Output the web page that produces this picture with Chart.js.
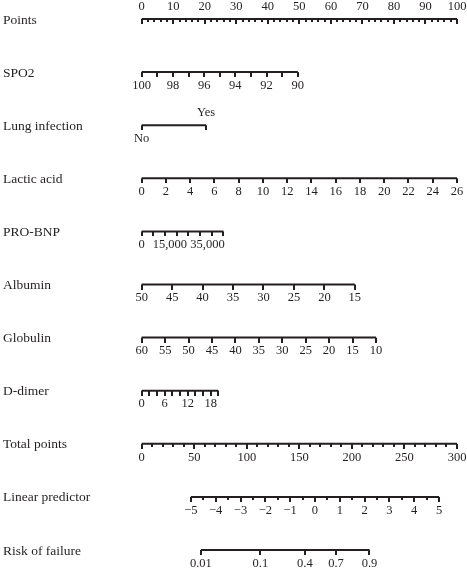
<!DOCTYPE html>
<html>
<head>
<meta charset="utf-8">
<script src="https://cdn.jsdelivr.net/npm/chart.js@4/dist/chart.umd.min.js"></script>
<style>
  html, body { margin: 0; padding: 0; background: #fff; }
  #wrap { width: 467px; height: 569px; }
</style>
</head>
<body>
<div id="wrap"><canvas id="nomo" width="467" height="569"></canvas></div>
<script>
// ---------- DATA ----------
const rowNames = ['Points', 'SPO2', 'Lung infection', 'Lactic acid', 'PRO-BNP', 'Albumin',
                  'Globulin', 'D-dimer', 'Total points', 'Linear predictor', 'Risk of failure'];

// Points axis
const pointsLabels = [0, 10, 20, 30, 40, 50, 60, 70, 80, 90, 100];

// each predictor: value at left / right end of its axis -> points at those ends
const spo2Ends = [100, 90];        const spo2Pts = [0, 49.5];
const spo2Ticks = [100, 99, 98, 97, 96, 95, 94, 93, 92, 91, 90];
const spo2Labels = [100, 98, 96, 94, 92, 90];

const lungValues = [0, 1];         const lungPts = [0, 20.4];
const lungText = ['No', 'Yes'];

const lacticEnds = [0, 26];        const lacticPts = [0, 100];
const lacticLabels = [0, 2, 4, 6, 8, 10, 12, 14, 16, 18, 20, 22, 24, 26];

const bnpEnds = [0, 43400];        const bnpPts = [0, 25.9];
const bnpTicks = [0, 6200, 12400, 18600, 24800, 31000, 37200, 43400];
const bnpLabels = [0, 15000, 35000];
const bnpText = ['0', '15,000', '35,000'];

const albuminEnds = [50, 15];      const albuminPts = [0, 67.6];
const albuminLabels = [50, 45, 40, 35, 30, 25, 20, 15];

const globulinEnds = [60, 10];     const globulinPts = [0, 74.3];
const globulinLabels = [60, 55, 50, 45, 40, 35, 30, 25, 20, 15, 10];

const ddimerEnds = [0, 20];        const ddimerPts = [0, 24.3];
const ddimerTicks = [0, 2, 4, 6, 8, 10, 12, 14, 16, 18, 20];
const ddimerLabels = [0, 6, 12, 18];

const totalEnds = [0, 300];        const totalPts = [0, 100];
const totalLabels = [0, 50, 100, 150, 200, 250, 300];

const lpEnds = [-5, 5];            const lpPts = [15.6, 94.3];
const lpLabels = [-5, -4, -3, -2, -1, 0, 1, 2, 3, 4, 5];

const riskLabels = [0.01, 0.1, 0.4, 0.7, 0.9];

// ---------- helpers ----------
function lin(ends, pts) {
  return v => pts[0] + (v - ends[0]) * (pts[1] - pts[0]) / (ends[1] - ends[0]);
}
function steps(a, b, s) {
  const out = [];
  for (let v = a; v <= b + 1e-9; v += s) out.push(Math.round(v * 1000) / 1000);
  return out;
}
const lpMap = lin(lpEnds, lpPts);
const riskMap = p => lpMap(Math.log(p / (1 - p)));

const rows = [
  { map: v => v, range: [0, 100], major: pointsLabels, minor: steps(0, 100, 2),
    labels: pointsLabels, above: true },
  { map: lin(spo2Ends, spo2Pts), range: spo2Ends, major: spo2Ticks, labels: spo2Labels },
  { map: lin([0, 1], lungPts), range: lungValues, major: lungValues, labels: lungValues,
    text: lungText, side: [false, true] },
  { map: lin(lacticEnds, lacticPts), range: lacticEnds, major: lacticLabels, labels: lacticLabels },
  { map: lin(bnpEnds, bnpPts), range: bnpEnds, major: bnpTicks, labels: bnpLabels, text: bnpText },
  { map: lin(albuminEnds, albuminPts), range: albuminEnds, major: albuminLabels, labels: albuminLabels },
  { map: lin(globulinEnds, globulinPts), range: globulinEnds, major: globulinLabels, labels: globulinLabels },
  { map: lin(ddimerEnds, ddimerPts), range: ddimerEnds, major: ddimerTicks, labels: ddimerLabels },
  { map: lin(totalEnds, totalPts), range: totalEnds, major: totalLabels, minor: steps(0, 300, 10),
    labels: totalLabels },
  { map: lpMap, range: lpEnds, major: lpLabels, minor: steps(-5, 5, 0.5), labels: lpLabels,
    text: lpLabels.map(v => v < 0 ? '\u2212' + Math.abs(v) : String(v)) },
  { map: riskMap, range: [0.01, 0.9], major: riskLabels, labels: riskLabels }
];

// ---------- tick glyphs (hang down from the axis line) ----------
function tickImg(len) {
  const c = document.createElement('canvas');
  c.width = 2; c.height = len * 2;
  const g = c.getContext('2d');
  g.fillStyle = '#231f20';
  g.fillRect(0, len, 2, len);
  return c;
}
const majorTick = tickImg(5);
const minorTick = tickImg(3);

// ---------- datasets ----------
const INK = '#231f20';
const datasets = [];
rows.forEach((r, i) => {
  datasets.push({
    data: r.range.map(v => ({ x: r.map(v), y: i })),
    showLine: true, borderColor: INK, borderWidth: 2, pointRadius: 0, clip: false
  });
  if (r.minor) {
    datasets.push({
      data: r.minor.filter(v => !r.major.includes(v)).map(v => ({ x: r.map(v), y: i })),
      pointStyle: minorTick, pointRadius: 1, clip: false
    });
  }
  datasets.push({
    data: r.major.map(v => ({ x: r.map(v), y: i })),
    pointStyle: majorTick, pointRadius: 1, clip: false
  });
});

// ---------- text: row names + tick labels ----------
const labelPlugin = {
  id: 'nomoLabels',
  afterDatasetsDraw(chart) {
    const { ctx, scales: { x, y } } = chart;
    ctx.save();
    ctx.fillStyle = INK;
    ctx.textBaseline = 'middle';
    rows.forEach((r, i) => {
      const py = y.getPixelForValue(i);
      ctx.font = '13.5px "Liberation Serif", serif';
      ctx.textAlign = 'left';
      ctx.fillText(rowNames[i], 3, py + 1);

      ctx.font = '12.5px "Liberation Serif", serif';
      ctx.textAlign = 'center';
      r.labels.forEach((v, k) => {
        const txt = r.text ? r.text[k] : String(v);
        const up = r.side ? r.side[k] : !!r.above;
        const px = x.getPixelForValue(r.map(v));
        ctx.fillText(txt, px, py + (up ? -12 : 13.5));
      });
    });
    ctx.restore();
  }
};

new Chart(document.getElementById('nomo'), {
  type: 'scatter',
  data: { datasets },
  options: {
    responsive: false,
    animation: false,
    events: [],
    layout: { padding: { left: 141.7, right: 10, top: 19, bottom: 19 } },
    plugins: { legend: { display: false }, tooltip: { enabled: false } },
    scales: {
      x: { type: 'linear', min: 0, max: 100, display: false },
      y: { type: 'linear', min: 0, max: 10, reverse: true, display: false }
    }
  },
  plugins: [labelPlugin]
});
</script>
</body>
</html>
